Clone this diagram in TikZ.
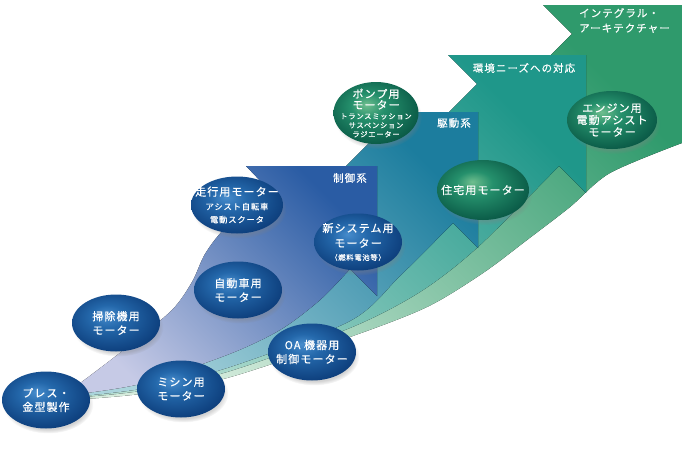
\documentclass[tikz,border=0pt]{standalone}
\usepackage{fontspec}
\setmainfont{Noto Sans CJK JP}[LetterSpace=10, FakeBold=0.4]
\usetikzlibrary{shapes.geometric, shadows}

\definecolor{cCtl}{HTML}{2A5CA4}
\definecolor{cCtlLt}{HTML}{C6CAE6}
\definecolor{cDrv}{HTML}{1C7D9E}
\definecolor{cDrvLt}{HTML}{AAD4DC}
\definecolor{cEnv}{HTML}{1F978A}
\definecolor{cEnvLt}{HTML}{B4DDD0}
\definecolor{cInt}{HTML}{2F9A6C}
\definecolor{cIntLt}{HTML}{D6ECDD}
\definecolor{bHi}{HTML}{478CCC}
\definecolor{bMid}{HTML}{2468AB}
\definecolor{bDk}{HTML}{0E407E}
\definecolor{gHi}{HTML}{6FBE8E}
\definecolor{gMid}{HTML}{25906C}
\definecolor{gDk}{HTML}{0B5C48}

\pgfdeclareradialshading{blueball}{\pgfpoint{-6bp}{7bp}}{color(0bp)=(bHi);
    color(10bp)=(bMid); color(28bp)=(bDk); color(50bp)=(bDk)}
\pgfdeclareradialshading{greenball}{\pgfpoint{-6bp}{7bp}}{color(0bp)=(gHi);
    color(10bp)=(gMid); color(28bp)=(gDk); color(50bp)=(gDk)}

\newcommand{\kofont}{\fontsize{7.3}{9}\selectfont}
\newcommand{\nakafont}{\fontsize{8.3}{10}\selectfont}

\tikzset{
    x=1pt, y=-1pt,
    motor/.style={ellipse, minimum width=88pt, minimum height=57pt,
                  inner xsep=-14pt, inner ysep=-8pt, shade, shading=blueball,
                  circular drop shadow={shadow xshift=2pt, shadow yshift=-4pt,
                                        shadow scale=1.03, opacity=0.35},
                  text=white, align=center, font=\fontsize{11}{14}\selectfont},
    motorg/.style={motor, shading=greenball},
    kei/.style={text=white, inner sep=0pt, font=\fontsize{10.5}{15}\selectfont},
    ctlarr/.style={left color=cCtlLt, right color=cCtl, shading angle=135},
    drvarr/.style={left color=cDrvLt, right color=cDrv, shading angle=135},
    envarr/.style={left color=cEnvLt, right color=cEnv, shading angle=135},
    intarr/.style={left color=cIntLt, right color=cInt, shading angle=135},
}

\begin{document}
\begin{tikzpicture}
    \useasboundingbox (0,0) rectangle (682,450);

    % las cuatro flechas, de atras hacia delante
    \fill[intarr] (70,396)
        -- plot[smooth] coordinates {(70,396) (150,380) (250,335) (330,280)
                                     (400,215) (470,140) (530,76) (572,34)}
        -- (543,5) -- (682,5) -- (682,143)
        -- plot[smooth] coordinates {(682,143) (610,173) (570,207) (527,240)
                                     (483,273) (427,307) (350,337) (227,378)
                                     (140,394) (70,400)}
        -- cycle;
    \fill[envarr] (70,395)
        -- plot[smooth] coordinates {(70,395) (150,375) (250,320) (320,250)
                                     (380,181) (430,131) (477,84)}
        -- (448,55) -- (586,55) -- (586,193) -- (559,166)
        -- plot[smooth] coordinates {(559,166) (478,247) (420,292) (350,328)
                                     (227,372) (140,391) (70,398)}
        -- cycle;
    \fill[drvarr] (70,393)
        -- plot[smooth] coordinates {(70,393) (130,365) (200,315) (250,265)
                                     (300,212) (346,166) (371,141)}
        -- (342,112) -- (478,112) -- (478,248) -- (453,223)
        -- plot[smooth] coordinates {(453,223) (400,276) (350,321) (227,368)
                                     (140,389) (70,397)}
        -- cycle;
    \fill[ctlarr] (70,390)
        -- plot[smooth] coordinates {(70,390) (87,378) (130,345) (172,310)
                                     (192,282) (205,254) (224,229) (266,187)}
        -- (246,166) -- (377,166) -- (377,296) -- (350,269)
        -- plot[smooth] coordinates {(350,269) (320,300) (280,330) (227,355)
                                     (140,384) (70,395)}
        -- cycle;

    \node[kei] (kctl) at (350,178) {制御系};
    \node[kei] (kdrv) at (454,123) {駆動系};
    \node[kei] (kenv) at (524,68) {環境ニーズへの対応};
    \node[kei, align=left, anchor=north west] (kint) at (579,8)
        {インテグラル・\\アーキテクチャー};

    \node[motor] (press) at (46,400) {プレス・\\金型製作};
    \node[motor] (mishin) at (181,389) {ミシン用\\モーター};
    \node[motor] (soji) at (116,323) {掃除機用\\モーター};
    \node[motor] (jidosha) at (238,290) {自動車用\\モーター};
    \node[motor] (oa) at (312,352) {OA 機器用\\制御モーター};
    \node[motor, minimum width=92pt] (soko) at (237,205)
        {走行用モーター\\{\nakafont アシスト自転車}\\[-1pt]{\nakafont 電動スクータ}};
    \node[motor] (shinsys) at (358,242)
        {新システム用\\[1pt]モーター\\[-1pt]{\kofont （燃料電池等）}};
    \node[motorg, minimum width=85pt, minimum height=62pt] (pump) at (376,113)
        {ポンプ用\\[-3pt]モーター\\[-4pt]{\kofont トランスミッション}\\[-5pt]{\kofont サスペンション}\\[-5pt]{\kofont ラジエーター}};
    \node[motorg, minimum width=92pt, minimum height=60pt] (jutaku) at (483,190)
        {住宅用モーター};
    \node[motorg, minimum width=90pt, minimum height=58pt] (engine) at (612,120)
        {エンジン用\\[-2pt]電動アシスト\\[-2pt]モーター};
\end{tikzpicture}
\end{document}
